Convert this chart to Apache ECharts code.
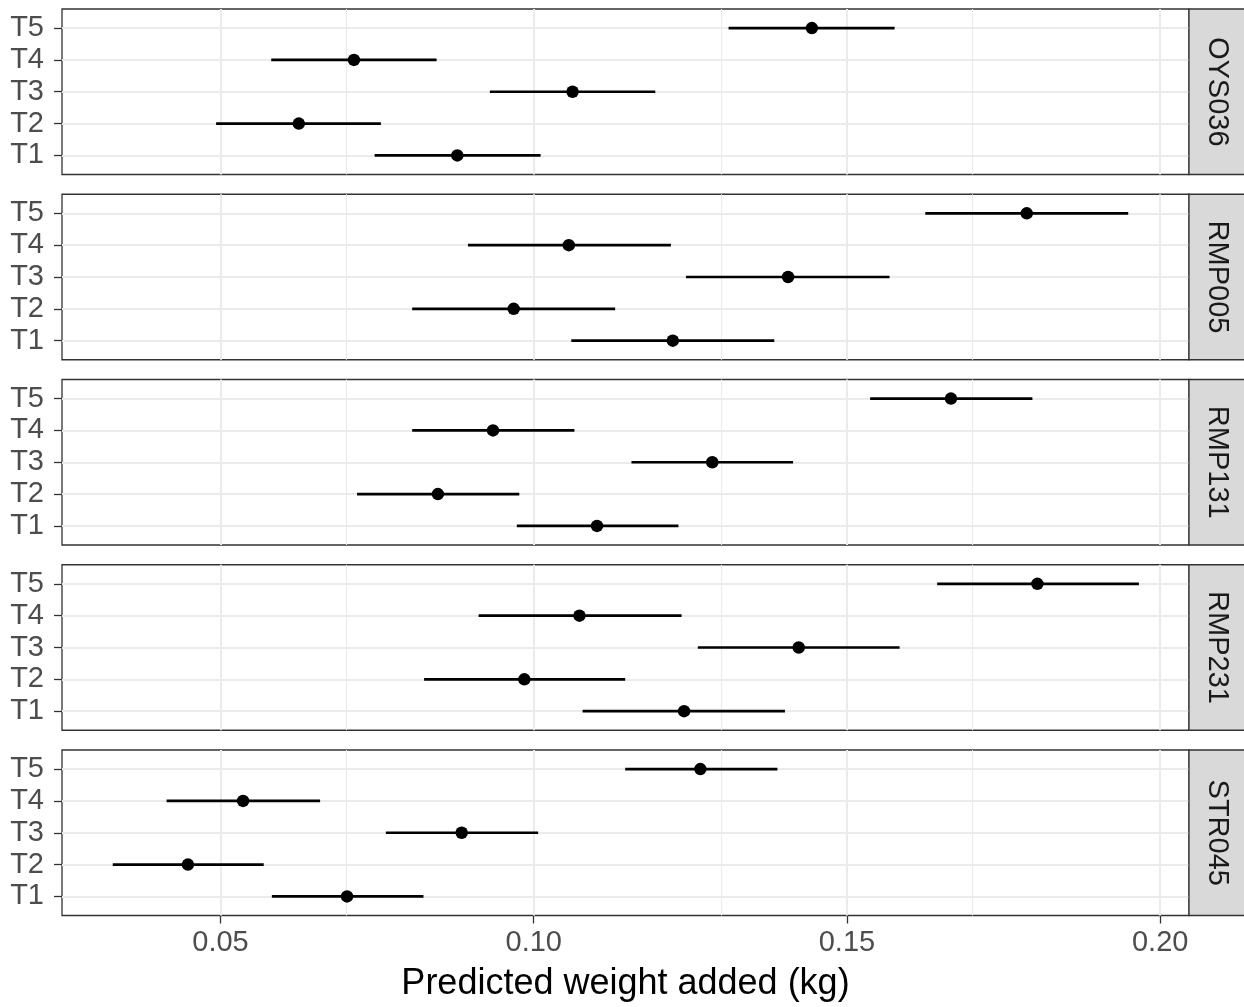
<!DOCTYPE html>
<html>
<head>
<meta charset="utf-8">
<script src="https://cdn.jsdelivr.net/npm/echarts@6/dist/echarts.min.js"></script>
<style>
html, body { margin: 0; padding: 0; background: #fff; }
#chart { width: 1244px; height: 1007px; }
</style>
</head>
<body>
<div id="chart"></div>
<script>
var strains = ['OYS036', 'RMP005', 'RMP131', 'RMP231', 'STR045'];
var treatments = ['T1', 'T2', 'T3', 'T4', 'T5'];
var xTicks = [0.05, 0.10, 0.15, 0.20];
var xMinorTicks = [0.075, 0.125, 0.175];
var yTicks = [1, 2, 3, 4, 5];

// one row per strain, columns T1..T5
var estimate = [
    [0.0878, 0.0625, 0.1062, 0.0713, 0.1444],
    [0.1222, 0.0968, 0.1406, 0.1056, 0.1787],
    [0.1101, 0.0847, 0.1285, 0.0935, 0.1666],
    [0.1240, 0.0985, 0.1423, 0.1073, 0.1804],
    [0.0702, 0.0448, 0.0885, 0.0536, 0.1266]
];
var lower = [
    [0.0746, 0.0493, 0.0930, 0.0581, 0.1311],
    [0.1060, 0.0806, 0.1243, 0.0895, 0.1625],
    [0.0973, 0.0718, 0.1156, 0.0806, 0.1537],
    [0.1078, 0.0825, 0.1262, 0.0912, 0.1644],
    [0.0582, 0.0328, 0.0764, 0.0414, 0.1146]
];
var upper = [
    [0.1011, 0.0756, 0.1194, 0.0845, 0.1576],
    [0.1384, 0.1130, 0.1568, 0.1219, 0.1949],
    [0.1231, 0.0977, 0.1414, 0.1065, 0.1796],
    [0.1401, 0.1146, 0.1584, 0.1236, 0.1966],
    [0.0824, 0.0569, 0.1007, 0.0659, 0.1389]
];

var font = "'Liberation Sans', Arial, Helvetica, sans-serif";
var xMin = 0.0247, xMax = 0.2046;
var panelTop = [9, 194.25, 379.5, 564.75, 750];
var panelH = 165.5;
var panelLeft = 62, panelRight = 1189;

var myChart = echarts.init(document.getElementById('chart'));

var grid = [], xAxis = [], yAxis = [], series = [], graphic = [];
for (var i = 0; i < strains.length; i++) {
    var last = i === strains.length - 1;
    grid.push({
        left: panelLeft,
        width: panelRight - panelLeft,
        top: panelTop[i],
        height: panelH,
        show: true,
        borderColor: '#333',
        borderWidth: 1.3
    });
    // major x
    xAxis.push({
        type: 'value', gridIndex: i, min: xMin, max: xMax,
        axisLine: { show: false },
        axisTick: { show: last, customValues: xTicks, length: 8, lineStyle: { color: '#333', width: 1.3 } },
        axisLabel: {
            show: last, customValues: xTicks, margin: 13,
            color: '#4d4d4d', fontSize: 29, fontFamily: font,
            formatter: function (v) { return v.toFixed(2); }
        },
        splitLine: { show: false },
        name: last ? 'Predicted weight added (kg)' : '',
        nameLocation: 'middle',
        nameGap: 51,
        nameTextStyle: { color: '#000', fontSize: 36, fontFamily: font }
    });
    yAxis.push({
        type: 'value', gridIndex: i, min: 0.4, max: 5.6,
        axisLine: { show: false },
        axisTick: { show: true, customValues: yTicks, length: 8, lineStyle: { color: '#333', width: 1.3 } },
        axisLabel: {
            customValues: yTicks, margin: 18,
            color: '#4d4d4d', fontSize: 29, fontFamily: font,
            formatter: function (v) { return treatments[Math.round(v) - 1]; }
        },
        splitLine: { show: false }
    });

    var bars = [], pts = [];
    for (var j = 0; j < treatments.length; j++) {
        bars.push([j + 1, lower[i][j], upper[i][j]]);
        pts.push([estimate[i][j], j + 1]);
    }
    // background grid lines, placed through the axes' own scales
    series.push({
        type: 'line',
        xAxisIndex: i,
        yAxisIndex: i,
        data: [],
        silent: true,
        z: 1,
        markLine: {
            symbol: 'none',
            silent: true,
            label: { show: false },
            animation: false,
            data: xMinorTicks.map(function (v) {
                return { xAxis: v, lineStyle: { color: '#ebebeb', width: 1.1, type: 'solid' } };
            }).concat(xTicks.map(function (v) {
                return { xAxis: v, lineStyle: { color: '#ebebeb', width: 2, type: 'solid' } };
            })).concat(yTicks.map(function (v) {
                return { yAxis: v, lineStyle: { color: '#ebebeb', width: 2.2, type: 'solid' } };
            }))
        }
    });
    series.push({
        type: 'custom',
        xAxisIndex: i,
        yAxisIndex: i,
        z: 5,
        encode: { x: [1, 2], y: 0 },
        renderItem: function (params, api) {
            var a = api.coord([api.value(1), api.value(0)]);
            var b = api.coord([api.value(2), api.value(0)]);
            return {
                type: 'line',
                shape: { x1: a[0], y1: a[1], x2: b[0], y2: b[1] },
                style: { stroke: '#000', lineWidth: 2.6 }
            };
        },
        data: bars
    });
    series.push({
        type: 'scatter',
        xAxisIndex: i,
        yAxisIndex: i,
        z: 6,
        symbol: 'circle',
        symbolSize: 12.5,
        itemStyle: { color: '#000', opacity: 1 },
        data: pts
    });

    // facet strip on the right
    graphic.push({
        type: 'rect',
        shape: { x: panelRight, y: panelTop[i], width: 60, height: panelH },
        style: { fill: '#d9d9d9', stroke: '#333', lineWidth: 1.3 },
        z: 10
    });
    graphic.push({
        type: 'text',
        x: 1217, y: panelTop[i] + panelH / 2,
        rotation: -Math.PI / 2,
        style: {
            text: strains[i], fill: '#1a1a1a', font: '29px ' + font,
            align: 'center', verticalAlign: 'middle'
        },
        z: 11
    });
}

var option = {
    backgroundColor: '#fff',
    animation: false,
    grid: grid,
    xAxis: xAxis,
    yAxis: yAxis,
    series: series,
    graphic: graphic
};
myChart.setOption(option);
</script>
</body>
</html>
